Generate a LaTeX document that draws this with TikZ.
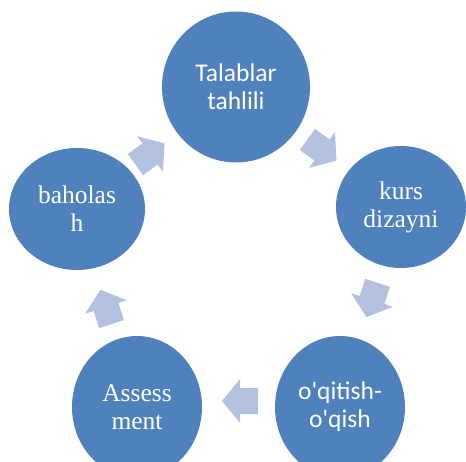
\documentclass[tikz,border=0pt]{standalone}
\usepackage{fontspec}
\setmainfont{Liberation Serif}
\newfontfamily\calib{Carlito}
\usetikzlibrary{shapes.geometric}
\definecolor{nodeblue}{RGB}{79,129,189}
\definecolor{arrowblue}{RGB}{178,193,222}
\tikzset{
  cyclenode/.style={ellipse, fill=nodeblue, inner sep=0pt, text=white, align=center,
    font=\fontsize{25.5}{28}\selectfont},
  sansnode/.style={cyclenode, font=\calib\fontsize{25.5}{28}\selectfont},
  blockarrow/.pic={\fill[arrowblue] (-18,-13) -- (0,-13) -- (0,-22) -- (18,0) -- (0,22) -- (0,13) -- (-18,13) -- cycle;}
}
\begin{document}
\begin{tikzpicture}[x=1pt,y=1pt]
\useasboundingbox (0,0) rectangle (466,461);
\node[sansnode, minimum width=148pt, minimum height=151pt] (talab) at (236,374) {Talablar\\tahlili};
\node[cyclenode, minimum width=130pt, minimum height=122pt] (kurs) at (401,254) {kurs\\dizayni};
\node[sansnode, minimum width=130pt, minimum height=142pt] (oqit) at (340,54) {o'qitish-\\o'qish};
\node[cyclenode, minimum width=130pt, minimum height=142pt] (assess) at (137,54) {Assess\\ment};
\node[cyclenode, minimum width=136pt, minimum height=122pt] (bahol) at (77,252) {baholas\\h};
\pic[rotate=-36] at (322,311) {blockarrow};
\pic[rotate=-108] at (372,161) {blockarrow};
\pic[rotate=180] at (240,60) {blockarrow};
\pic[rotate=108] at (106,154) {blockarrow};
\pic[rotate=36] at (150,307) {blockarrow};
\end{tikzpicture}
\end{document}
